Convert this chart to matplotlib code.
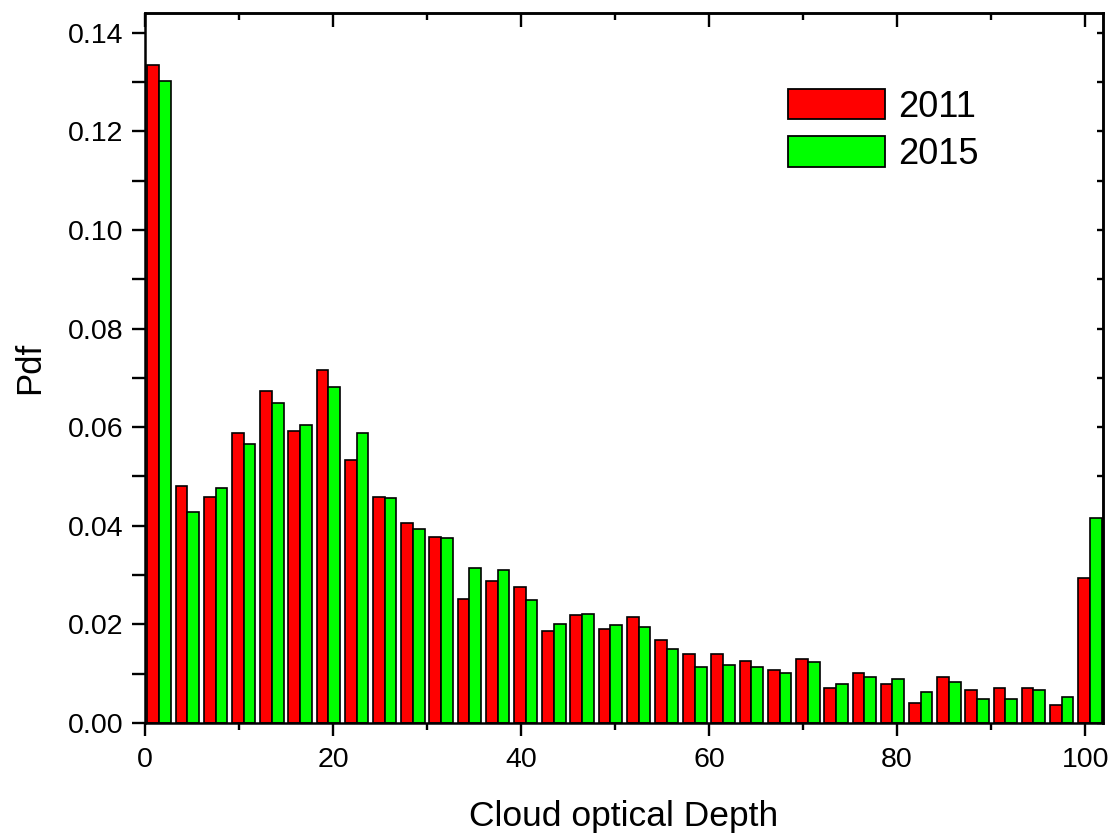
import numpy as np
import matplotlib
matplotlib.use("Agg")
import matplotlib.pyplot as plt
from matplotlib.ticker import MultipleLocator, FormatStrFormatter

plt.rcParams['font.family'] = ['Liberation Sans', 'DejaVu Sans']

# Histogram bins of cloud optical depth (width 3), bin centres
bin_centers = np.arange(1.5, 101.0, 3.0)

pdf_2011 = [0.1334, 0.0481, 0.0458, 0.0589, 0.0674, 0.0593, 0.0716, 0.0533,
            0.0458, 0.0406, 0.0378, 0.0252, 0.0289, 0.0276, 0.0187, 0.0220,
            0.0191, 0.0215, 0.0168, 0.0140, 0.0140, 0.0126, 0.0107, 0.0130,
            0.0070, 0.0102, 0.0079, 0.0041, 0.0093, 0.0066, 0.0070, 0.0070,
            0.0037, 0.0295]
pdf_2015 = [0.1303, 0.0427, 0.0477, 0.0566, 0.0649, 0.0604, 0.0681, 0.0589,
            0.0456, 0.0394, 0.0375, 0.0315, 0.0310, 0.0250, 0.0201, 0.0222,
            0.0198, 0.0195, 0.0150, 0.0114, 0.0118, 0.0114, 0.0101, 0.0124,
            0.0079, 0.0093, 0.0089, 0.0062, 0.0084, 0.0049, 0.0049, 0.0067,
            0.0052, 0.0415]
series_labels = ['2011', '2015']

W, H = 1111, 834
fig = plt.figure(figsize=(W / 100, H / 100), dpi=100)
ax = fig.add_axes([145 / W, 1 - 723 / H, (1103 - 145) / W, (723 - 13) / H])

bw = 1.245
ax.bar(bin_centers - bw / 2, pdf_2011, width=bw, color='#FF0000',
       edgecolor='black', linewidth=1.2, label=series_labels[0])
ax.bar(bin_centers + bw / 2, pdf_2015, width=bw, color='#00FF00',
       edgecolor='black', linewidth=1.2, label=series_labels[1])

ax.set_xlim(0, 101.9)
ax.set_ylim(0, 0.144)

for s in ax.spines.values():
    s.set_linewidth(1.8)

ax.xaxis.set_major_locator(MultipleLocator(20))
ax.xaxis.set_minor_locator(MultipleLocator(10))
ax.yaxis.set_major_locator(MultipleLocator(0.02))
ax.yaxis.set_minor_locator(MultipleLocator(0.01))
ax.yaxis.set_major_formatter(FormatStrFormatter('%.2f'))

ax.tick_params(axis='x', which='major', direction='out', length=9.5, width=1.7,
               labelsize=20.5, pad=8)
ax.tick_params(axis='x', which='minor', direction='out', length=5, width=1.7)
ax.tick_params(axis='y', which='both', direction='out', length=9.5, width=1.7,
               labelsize=20.5, pad=6)

# mirrored ticks on top and right, pointing inward
top = ax.secondary_xaxis('top')
top.xaxis.set_major_locator(MultipleLocator(20))
top.xaxis.set_minor_locator(MultipleLocator(10))
top.tick_params(which='major', direction='in', length=10, width=1.7, labeltop=False)
top.tick_params(which='minor', direction='in', length=5, width=1.7)
top.spines['top'].set_linewidth(1.8)

right = ax.secondary_yaxis('right')
right.yaxis.set_major_locator(MultipleLocator(0.02))
right.yaxis.set_minor_locator(MultipleLocator(0.01))
right.tick_params(which='both', direction='in', length=4.5, width=1.7, labelright=False)
right.spines['right'].set_linewidth(1.8)

ax.set_xlabel('Cloud optical Depth', fontsize=25.5, labelpad=19)
ax.set_ylabel('Pdf', fontsize=25, labelpad=16)

leg = ax.legend(loc='upper left', bbox_to_anchor=(788 / W, 1 - 89 / H),
                bbox_transform=fig.transFigure, frameon=False, fontsize=26,
                handlelength=2.69, handleheight=0.92, handletextpad=0.36,
                labelspacing=0.32, borderpad=0, borderaxespad=0)
for p in leg.get_patches():
    p.set_linewidth(1.3)

fig.savefig('out.png', dpi=100)
